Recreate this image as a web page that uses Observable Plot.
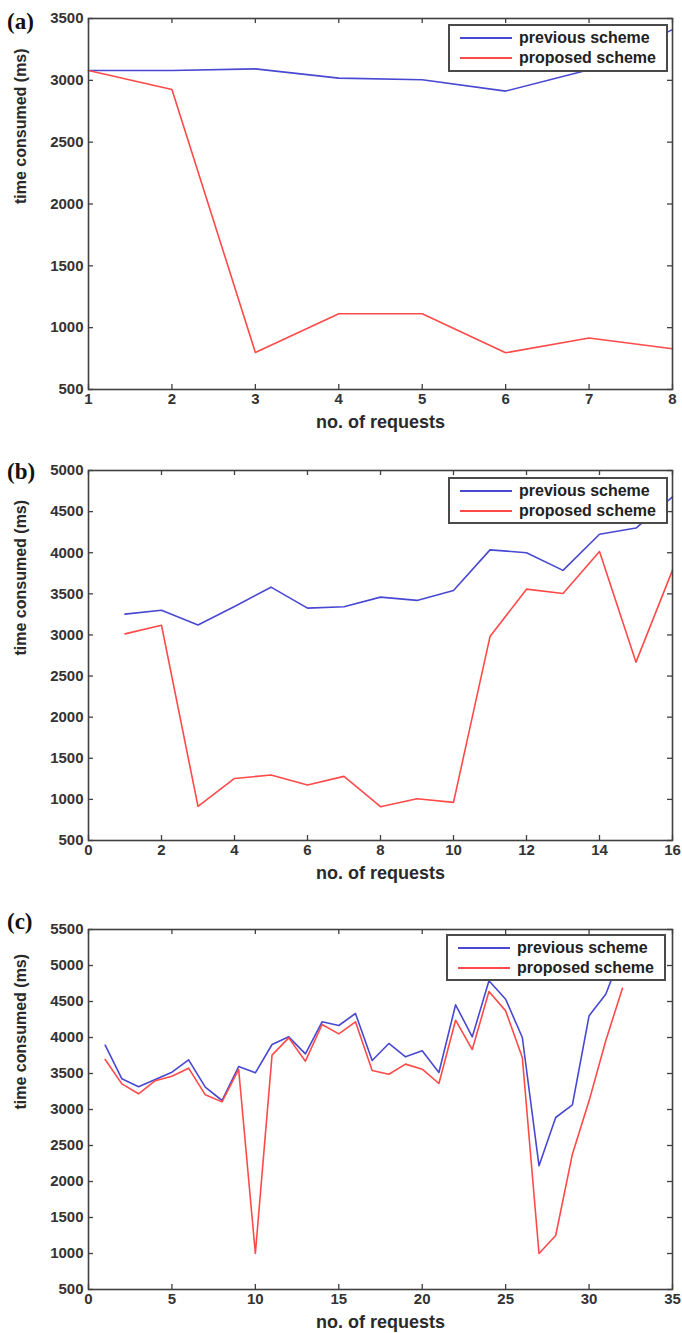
<!DOCTYPE html>
<html>
<head>
<meta charset="utf-8">
<script src="https://cdn.jsdelivr.net/npm/d3@7"></script>
<script src="https://cdn.jsdelivr.net/npm/@observablehq/plot@0.6"></script>
<style>
  body { margin: 0; background: #fff; }
  #wrap { position: relative; width: 682px; height: 1333px; overflow: hidden; font-family: "Liberation Sans", Arial, Helvetica, sans-serif; }
  .panel { position: absolute; left: 0; }
  .tag { position: absolute; left: 7px; font-family: "Liberation Serif", "Times New Roman", serif; font-weight: bold; font-size: 23px; color: #111; line-height: 1; }
  .legend { position: absolute; background: #fff; border: 2px solid #4a4a4a; box-sizing: border-box; }
  .legend .row { position: absolute; left: 10px; height: 20px; display: flex; align-items: center; font-weight: bold; font-size: 16px; color: #222; white-space: nowrap; }
  .legend .sw { width: 52px; height: 0; border-top: 2px solid; margin-right: 7px; }
</style>
</head>
<body>
<div id="wrap"></div>
<script>
// ---------- data ----------
const seriesNames = ["previous scheme", "proposed scheme"];
const seriesColors = ["#4848d2", "#ff4a4a"];

// panel (a)
const requestsA = [1, 2, 3, 4, 5, 6, 7, 8];
const previousA = [3080, 3080, 3093, 3018, 3005, 2913, 3085, 3410];
const proposedA = [3080, 2926, 800, 1112, 1112, 797, 917, 829];
const xTicksA = [1, 2, 3, 4, 5, 6, 7, 8];
const yTicksA = [500, 1000, 1500, 2000, 2500, 3000, 3500];

// panel (b)
const requestsB = [1, 2, 3, 4, 5, 6, 7, 8, 9, 10, 11, 12, 13, 14, 15, 16];
const previousB = [3253, 3301, 3122, 3346, 3581, 3326, 3342, 3460, 3420, 3540, 4035, 4000, 3785, 4225, 4300, 4680];
const proposedB = [3013, 3118, 915, 1255, 1296, 1174, 1280, 911, 1008, 964, 2980, 3557, 3504, 4015, 2669, 3788];
const xTicksB = [0, 2, 4, 6, 8, 10, 12, 14, 16];
const yTicksB = [500, 1000, 1500, 2000, 2500, 3000, 3500, 4000, 4500, 5000];

// panel (c)
const requestsC = [1, 2, 3, 4, 5, 6, 7, 8, 9, 10, 11, 12, 13, 14, 15, 16,
                   17, 18, 19, 20, 21, 22, 23, 24, 25, 26, 27, 28, 29, 30, 31, 32];
const previousC = [3894, 3426, 3315, 3417, 3518, 3690, 3310, 3125, 3597, 3509, 3903, 4009, 3773, 4218, 4167, 4333,
                   3680, 3917, 3731, 3815, 3514, 4454, 4009, 4787, 4532, 4000, 2218, 2889, 3065, 4301, 4600, 5200];
const proposedC = [3694, 3356, 3218, 3400, 3463, 3574, 3204, 3106, 3556, 1000, 3755, 3995, 3671, 4180, 4051, 4218,
                   3542, 3490, 3630, 3560, 3361, 4240, 3833, 4639, 4370, 3722, 1000, 1250, 2380, 3120, 3954, 4685];
const xTicksC = [0, 5, 10, 15, 20, 25, 30, 35];
const yTicksC = [500, 1000, 1500, 2000, 2500, 3000, 3500, 4000, 4500, 5000, 5500];

const xTitle = "no. of requests";
const yTitle = "time consumed (ms)";

// ---------- drawing ----------
const FONT = '"Liberation Sans", Arial, Helvetica, sans-serif';
const AX = "#404040";
const W = 682, ML = 88, MR = 10;
const plain = d => String(d);

function makePanel(cfg) {
  const {xs, prev, prop, xDomain, xTicks, yDomain, yTicks, height, mt, mb} = cfg;
  const ph = height - mt - mb, pw = W - ML - MR;
  const rows = [];
  xs.forEach((x, i) => {
    rows.push({x, y: prev[i], s: seriesNames[0]});
    rows.push({x, y: prop[i], s: seriesNames[1]});
  });
  return Plot.plot({
    width: W, height,
    marginLeft: ML, marginRight: MR, marginTop: mt, marginBottom: mb,
    style: {fontFamily: FONT, fontSize: "15px", fontWeight: "bold", color: "#333", background: "transparent", overflow: "visible"},
    x: {domain: xDomain},
    y: {domain: yDomain},
    color: {domain: seriesNames, range: seriesColors},
    marks: [
      Plot.line(rows, {x: "x", y: "y", z: "s", stroke: "s", strokeWidth: 1.6}),
      Plot.frame({stroke: AX, strokeWidth: 1.6}),
      Plot.ruleX(xTicks, {x: d => d, insetTop: ph - 5, stroke: AX, strokeWidth: 1.3}),
      Plot.ruleX(xTicks, {x: d => d, insetBottom: ph - 5, stroke: AX, strokeWidth: 1.3}),
      Plot.ruleY(yTicks, {y: d => d, insetRight: pw - 5, stroke: AX, strokeWidth: 1.3}),
      Plot.ruleY(yTicks, {y: d => d, insetLeft: pw - 5, stroke: AX, strokeWidth: 1.3}),
      Plot.axisX(xTicks, {tickSize: 0, tickPadding: 4, fontSize: 15, tickFormat: plain, label: null}),
      Plot.axisY(yTicks, {tickSize: 0, tickPadding: 5, fontSize: 15, tickFormat: plain, label: null}),
      Plot.text([xTitle], {frameAnchor: "bottom", dy: 38, lineAnchor: "bottom", fontSize: 18, fontWeight: "bold", fill: "#2a2a2a", letterSpacing: "0.3px"}),
      Plot.text([yTitle], {frameAnchor: "left", rotate: -90, dx: -68, fontSize: 16, fontWeight: "bold", fill: "#2a2a2a"})
    ]
  });
}

const wrap = document.getElementById("wrap");

const panels = [
  {top: 0, tag: "(a)", tagTop: 10, legend: {left: 448, top: 24, width: 220, height: 48},
   xs: requestsA, prev: previousA, prop: proposedA, xDomain: [1, 8], xTicks: xTicksA, yDomain: [500, 3500], yTicks: yTicksA, height: 434, mt: 18, mb: 45},
  {top: 434, tag: "(b)", tagTop: 460, legend: {left: 448, top: 477, width: 220, height: 47},
   xs: requestsB, prev: previousB, prop: proposedB, xDomain: [0, 16], xTicks: xTicksB, yDomain: [500, 5000], yTicks: yTicksB, height: 453, mt: 36, mb: 47},
  {top: 887, tag: "(c)", tagTop: 910, legend: {left: 446, top: 934, width: 220, height: 47},
   xs: requestsC, prev: previousC, prop: proposedC, xDomain: [0, 35], xTicks: xTicksC, yDomain: [500, 5500], yTicks: yTicksC, height: 446, mt: 42, mb: 44}
];

for (const p of panels) {
  const svg = makePanel(p);
  svg.classList.add("panel");
  svg.style.top = p.top + "px";
  wrap.appendChild(svg);

  const tag = document.createElement("div");
  tag.className = "tag";
  tag.style.top = p.tagTop + "px";
  tag.textContent = p.tag;
  wrap.appendChild(tag);

  const lg = document.createElement("div");
  lg.className = "legend";
  Object.assign(lg.style, {left: p.legend.left + "px", top: p.legend.top + "px", width: p.legend.width + "px", height: p.legend.height + "px"});
  seriesNames.forEach((name, i) => {
    const row = document.createElement("div");
    row.className = "row";
    row.style.top = (2 + i * 20) + "px";
    const sw = document.createElement("span");
    sw.className = "sw";
    sw.style.borderTopColor = seriesColors[i];
    const tx = document.createElement("span");
    tx.textContent = name;
    row.appendChild(sw);
    row.appendChild(tx);
    lg.appendChild(row);
  });
  wrap.appendChild(lg);
}
</script>
</body>
</html>
